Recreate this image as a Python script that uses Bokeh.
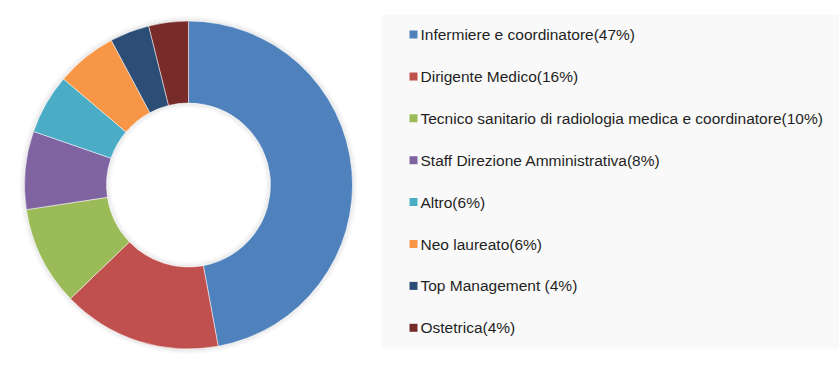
import numpy as np
from bokeh.plotting import figure
from bokeh.models import Range1d
from bokeh.core.properties import value
from bokeh.embed import file_html
from bokeh.resources import INLINE

categories = [
    "Infermiere e coordinatore(47%)",
    "Dirigente Medico(16%)",
    "Tecnico sanitario di radiologia medica e coordinatore(10%)",
    "Staff Direzione Amministrativa(8%)",
    "Altro(6%)",
    "Neo laureato(6%)",
    "Top Management (4%)",
    "Ostetrica(4%)",
]
# slice shares (labels show rounded percentages)
values = [47.1, 15.7, 9.8, 7.7, 5.9, 6.0, 3.9, 3.9]
colors = ["#4F81BD", "#C0504D", "#9BBB59", "#8064A2", "#4BACC6", "#F79646", "#2C4D75", "#772C2A"]

W, H = 839, 374
p = figure(width=W, height=H, output_backend="svg", toolbar_location=None,
           x_range=Range1d(0, W), y_range=Range1d(0, H), min_border=0)
p.axis.visible = False
p.grid.visible = False
p.outline_line_color = None
p.background_fill_color = "white"
p.border_fill_color = "white"

cx, cy = 188, H - 184.5
r_out, r_in = 164, 82

# soft shadow
for k, a in enumerate([0.06, 0.045, 0.03, 0.02, 0.01]):
    p.annulus(x=cx, y=cy, inner_radius=r_out + k, outer_radius=r_out + k + 1.5,
              fill_color="black", fill_alpha=a, line_color=None)
    p.annulus(x=cx, y=cy, inner_radius=r_in - k - 1.5, outer_radius=r_in - k,
              fill_color="black", fill_alpha=a, line_color=None)

vals = np.array(values, dtype=float)
frac = vals / vals.sum()
cum = np.concatenate([[0], np.cumsum(frac)])
starts = np.pi / 2 - cum[1:] * 2 * np.pi
ends = np.pi / 2 - cum[:-1] * 2 * np.pi
p.annular_wedge(x=cx, y=cy, inner_radius=r_in, outer_radius=r_out,
                start_angle=list(starts), end_angle=list(ends),
                fill_color=colors, line_color="white", line_width=0.5)

# legend box
lx0, lx1, ly_top, ly_bot = 381, W, H - 14, H - 348
p.quad(left=lx0, right=lx1, top=ly_top, bottom=ly_bot, fill_color="#F9F9F9", line_color=None)
row_y = [H - (34 + 41.9 * i) for i in range(len(categories))]
p.rect(x=[413] * len(categories), y=row_y, width=8, height=8, fill_color=colors, line_color=None)
p.text(x=[420] * len(categories), y=row_y, text=categories, text_font=value("Liberation Sans"),
       text_font_size="15.5px", text_color="#1F1F1F", text_baseline="middle", text_align="left")

open("out.html", "w").write(file_html(p, INLINE))
